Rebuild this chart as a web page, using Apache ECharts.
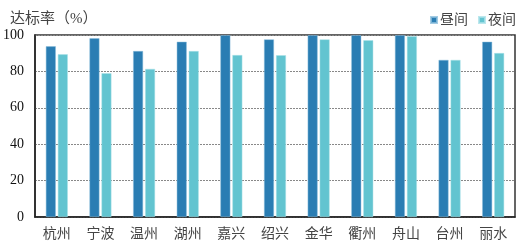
<!DOCTYPE html>
<html><head><meta charset="utf-8">
<script src="https://cdn.jsdelivr.net/npm/echarts@6/dist/echarts.min.js"></script>
<style>html,body{margin:0;padding:0;background:#fff}#c{width:523px;height:251px}</style>
</head><body><div id="c"></div>
<script>
const categories = ['杭州','宁波','温州','湖州','嘉兴','绍兴','金华','衢州','舟山','台州','丽水'];
const dayValues = [93.8, 98.2, 91.2, 96.3, 99.9, 97.6, 99.9, 99.9, 99.9, 86.3, 96.3];
const nightValues = [89.4, 79.0, 81.4, 91.2, 89.0, 88.9, 97.6, 97.1, 99.4, 86.3, 90.1];
const seriesNames = ['昼间','夜间'];
const yTicks = [0, 20, 40, 60, 80, 100];

const serif = '"Liberation Serif", "Noto Sans CJK SC", serif';
const chart = echarts.init(document.getElementById('c'));
chart.setOption({
  animation: false,
  title: { text: '达标率（%）', left: 5, top: 7, textStyle: { fontFamily: serif, fontSize: 15, fontWeight: 'normal', color: '#444' } },
  legend: { data: seriesNames, right: 2, top: 8, itemWidth: 6, itemHeight: 6, itemGap: 10, icon: 'rect',
    textStyle: { fontFamily: serif, fontSize: 14, color: '#444', padding: [0,0,0,-2] } },
  grid: { left: 32, right: 8, top: 35, bottom: 34, show: true, borderColor: '#333', borderWidth: 1.5 },
  xAxis: { type: 'category', data: categories,
    axisLine: { lineStyle: { color: '#222', width: 1.5 } }, axisTick: { show: false },
    axisLabel: { fontFamily: serif, fontSize: 14, color: '#444', margin: 10 } },
  yAxis: { type: 'value', min: yTicks[0], max: yTicks[yTicks.length-1], interval: 20,
    axisLine: { show: true, lineStyle: { color: '#222', width: 1.5 } }, axisTick: { show: false },
    axisLabel: { fontFamily: serif, fontSize: 14, color: '#111', margin: 11 } },
  series: [
    { name: seriesNames[0], type: 'bar', data: dayValues, barWidth: 10, barGap: '20%',
      itemStyle: { color: '#2a7db3', borderColor: 'rgba(140,190,220,0.8)', borderWidth: 0.6 } },
    { name: seriesNames[1], type: 'bar', data: nightValues, barWidth: 10,
      itemStyle: { color: '#62c4d0', borderColor: 'rgba(170,225,232,0.8)', borderWidth: 0.6 } }
  ]
});
chart.setOption({ yAxis: { splitLine: { show: true, lineStyle: { color: '#888', type: [2,1], width: 1 } } } });
</script></body></html>
